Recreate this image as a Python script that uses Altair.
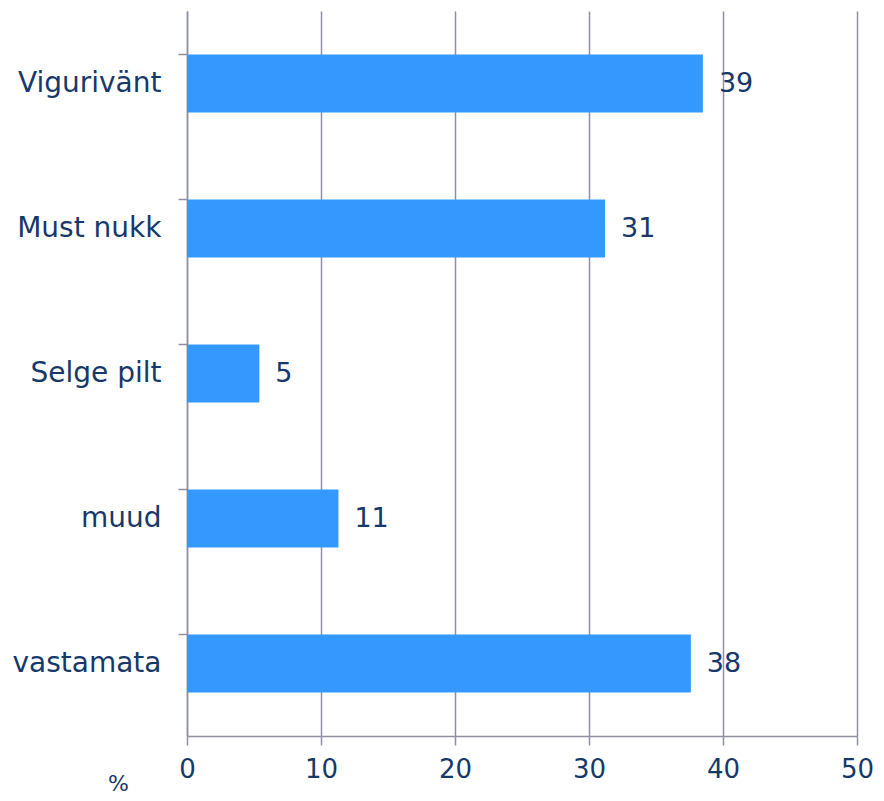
import altair as alt
import pandas as pd

categories = ["Vigurivänt", "Must nukk", "Selge pilt", "muud", "vastamata"]
values = [38.5, 31.2, 5.4, 11.3, 37.6]
labels = ["39", "31", "5", "11", "38"]

df = pd.DataFrame({"cat": categories, "val": values, "lab": labels})

NAVY = "#16396A"
GRID = "#8F91A3"
FONT = "DejaVu Sans"
FS = 28

x = alt.X("val:Q", scale=alt.Scale(domain=[0, 50], nice=False),
          axis=alt.Axis(values=[0, 10, 20, 30, 40, 50], title="%",
                        grid=True, gridColor=GRID, gridWidth=1.5,
                        domainColor=GRID, domainWidth=1.5,
                        tickColor=GRID, tickWidth=1.5, tickSize=9,
                        labelFont=FONT, labelFontSize=26, labelColor=NAVY,
                        labelPadding=11, labelFlush=False,
                        titleFont=FONT, titleFontSize=22,
                        titleColor=NAVY, titleFontWeight="normal",
                        titleX=-69, titleY=47, titleAlign="center",
                        titleBaseline="middle"))
y = alt.Y("cat:N", sort=categories,
          scale=alt.Scale(paddingInner=0.6, paddingOuter=0.3),
          axis=alt.Axis(title=None, bandPosition=0, domainColor=GRID,
                        domainWidth=1.5, tickColor=GRID, tickWidth=1.5,
                        tickSize=9, labelFont=FONT, labelFontSize=FS,
                        labelColor=NAVY, labelPadding=17, grid=False))

bars = alt.Chart(df).mark_bar(color="#3399FF").encode(x=x, y=y)
text = alt.Chart(df).mark_text(align="left", baseline="middle", dx=16,
                               font=FONT, fontSize=27, color=NAVY).encode(
    x="val:Q", y=alt.Y("cat:N", sort=categories), text="lab:N")

chart = (bars + text).properties(
    width=670, height=725,
    background="white",
    autosize=alt.AutoSizeParams(type="none"),
    padding={"left": 179, "top": 3, "right": 19, "bottom": 64},
).configure_view(stroke=None)

chart.save("out.html", embed_options={"renderer": "svg", "actions": False})
